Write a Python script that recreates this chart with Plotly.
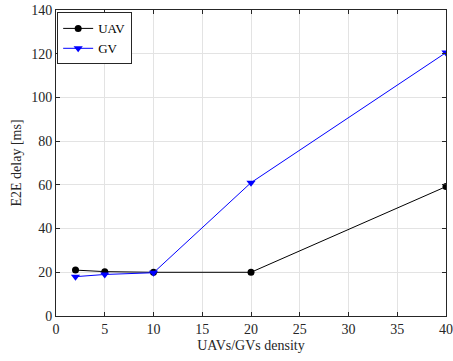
import plotly.graph_objects as go

density = [2, 5, 10, 20, 40]
uav_delay = [21, 20.3, 20, 20, 59.2]
gv_delay = [18, 19, 19.8, 61, 120.5]
x_ticks = [0, 5, 10, 15, 20, 25, 30, 35, 40]
y_ticks = [0, 20, 40, 60, 80, 100, 120, 140]

SERIF = "Liberation Serif, Times New Roman, serif"

fig = go.Figure()
fig.add_trace(go.Scatter(x=density, y=uav_delay, name="UAV", mode="lines+markers",
                         line=dict(color="black", width=1),
                         marker=dict(symbol="circle", size=7, color="black")))
fig.add_trace(go.Scatter(x=density, y=gv_delay, name="GV", mode="lines+markers",
                         line=dict(color="blue", width=1),
                         marker=dict(symbol="triangle-down", size=8, color="blue")))

axis_common = dict(showgrid=True, gridcolor="#e3e3e3", gridwidth=1,
                   showline=True, linecolor="#262626", linewidth=1, mirror="ticks",
                   ticks="inside", ticklen=4, tickcolor="#262626", zeroline=False,
                   automargin=False,
                   tickfont=dict(family=SERIF, size=14, color="#262626"))

fig.update_xaxes(range=[0, 40], tickvals=x_ticks,
                 title=dict(text="UAVs/GVs density", standoff=4,
                            font=dict(family=SERIF, size=14, color="#262626")),
                 **axis_common)
fig.update_yaxes(range=[0, 140], tickvals=y_ticks,
                 title=dict(text="E2E delay [ms]", standoff=6,
                            font=dict(family=SERIF, size=14, color="#262626")),
                 **axis_common)

fig.update_layout(width=453, height=361, margin=dict(l=56, r=7, t=10, b=45),
                  plot_bgcolor="white", paper_bgcolor="white",
                  legend=dict(x=0.003, y=0.992, xanchor="left", yanchor="top",
                              bgcolor="white", bordercolor="#262626", borderwidth=1,
                              font=dict(family=SERIF, size=13, color="black"),
                              itemwidth=30, tracegroupgap=0),
                  showlegend=True)

fig.write_html("out.html")
